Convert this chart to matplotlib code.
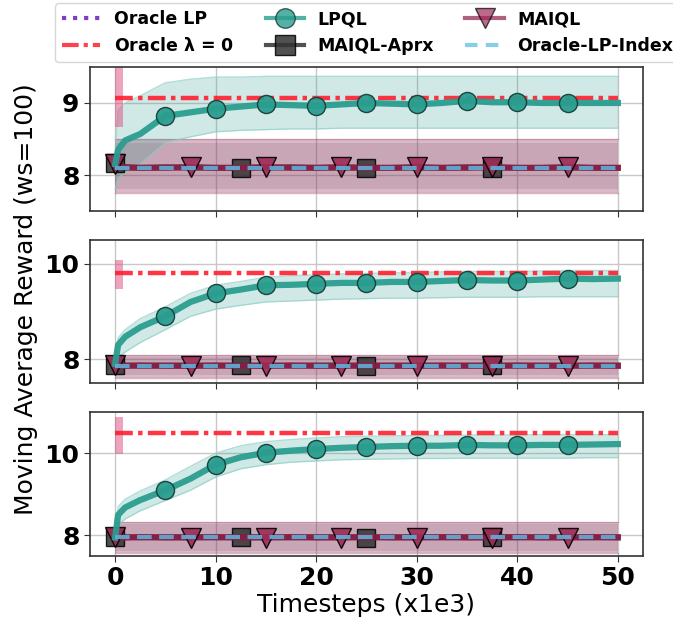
import numpy as np
import matplotlib
matplotlib.use("Agg")
import matplotlib.pyplot as plt
from matplotlib.lines import Line2D

# ---------------- data ----------------
X = [0, 0.3, 1, 2.5, 5, 7.5, 10, 12.5, 15, 17.5, 20, 22.5, 25, 27.5, 30,
     32.5, 35, 37.5, 40, 42.5, 45, 47.5, 50]

# Panel 1
lpql_mean_1 = [8.15, 8.35, 8.48, 8.57, 8.82, 8.87, 8.92, 8.95, 8.98, 8.97, 8.96, 8.98,
               9.00, 8.99, 8.98, 9.00, 9.03, 9.01, 9.01, 9.00, 9.00, 9.00, 9.00]
lpql_hi_1 = [8.30, 8.90, 9.00, 9.10, 9.28, 9.33, 9.36, 9.36, 9.37, 9.37, 9.37, 9.37,
             9.37, 9.37, 9.37, 9.37, 9.37, 9.37, 9.37, 9.37, 9.37, 9.37, 9.37]
lpql_lo_1 = [7.80, 7.95, 8.05, 8.15, 8.45, 8.53, 8.60, 8.62, 8.63, 8.64, 8.64, 8.65,
             8.65, 8.65, 8.65, 8.65, 8.65, 8.65, 8.65, 8.65, 8.65, 8.65, 8.65]
maiql_mean_1 = [8.15, 8.12, 8.11, 8.10, 8.10, 8.11, 8.10, 8.10, 8.11, 8.10, 8.10, 8.11,
                8.10, 8.10, 8.11, 8.10, 8.10, 8.11, 8.10, 8.10, 8.11, 8.10, 8.10]
maiql_hi_1 = [8.50] * 23
maiql_lo_1 = [7.75] * 23
aprx_mean_1 = [8.17, 8.11, 8.10, 8.10, 8.11, 8.10, 8.10, 8.10, 8.10, 8.11, 8.10, 8.10,
               8.10, 8.10, 8.10, 8.10, 8.11, 8.10, 8.10, 8.10, 8.10, 8.10, 8.10]
aprx_hi_1 = [8.45] * 23
aprx_lo_1 = [7.80] * 23
oracle0_1 = 9.07
oracle0_start_1 = (8.67, 9.60)
oracle_lp_1 = 9.07
oracle_idx_1 = 8.10

# Panel 2
lpql_mean_2 = [7.90, 8.30, 8.47, 8.67, 8.90, 9.20, 9.38, 9.46, 9.55, 9.56, 9.58, 9.60,
               9.60, 9.62, 9.62, 9.64, 9.66, 9.65, 9.65, 9.67, 9.69, 9.68, 9.69]
lpql_hi_2 = [8.00, 8.45, 8.62, 8.85, 9.10, 9.38, 9.55, 9.63, 9.72, 9.75, 9.77, 9.79,
             9.80, 9.81, 9.82, 9.83, 9.84, 9.84, 9.84, 9.85, 9.86, 9.86, 9.86]
lpql_lo_2 = [7.70, 8.05, 8.15, 8.35, 8.62, 8.90, 9.05, 9.13, 9.20, 9.22, 9.24, 9.26,
             9.27, 9.28, 9.28, 9.29, 9.30, 9.30, 9.30, 9.31, 9.31, 9.31, 9.31]
maiql_mean_2 = [7.88, 7.86, 7.86, 7.87, 7.86, 7.86, 7.87, 7.86, 7.86, 7.87, 7.86, 7.86,
                7.87, 7.86, 7.86, 7.87, 7.86, 7.86, 7.87, 7.86, 7.86, 7.87, 7.86]
maiql_hi_2 = [8.08] * 23
maiql_lo_2 = [7.60] * 23
aprx_mean_2 = [7.88, 7.87, 7.87, 7.86, 7.87, 7.87, 7.86, 7.87, 7.87, 7.86, 7.87, 7.87,
               7.86, 7.87, 7.87, 7.86, 7.87, 7.87, 7.86, 7.87, 7.87, 7.86, 7.87]
aprx_hi_2 = [8.04] * 23
aprx_lo_2 = [7.66] * 23
oracle0_2 = 9.80
oracle0_start_2 = (9.48, 10.08)
oracle_lp_2 = 9.80
oracle_idx_2 = 7.86

# Panel 3
lpql_mean_3 = [7.95, 8.50, 8.68, 8.86, 9.10, 9.38, 9.72, 9.90, 10.01, 10.06, 10.10, 10.13,
               10.15, 10.17, 10.18, 10.18, 10.20, 10.19, 10.19, 10.20, 10.20, 10.21, 10.22]
lpql_hi_3 = [8.05, 8.70, 8.88, 9.08, 9.35, 9.68, 10.00, 10.18, 10.28, 10.33, 10.37, 10.40,
             10.41, 10.42, 10.43, 10.43, 10.44, 10.44, 10.44, 10.45, 10.45, 10.45, 10.45]
lpql_lo_3 = [7.75, 8.25, 8.40, 8.60, 8.85, 9.10, 9.42, 9.62, 9.72, 9.78, 9.81, 9.84,
             9.85, 9.86, 9.87, 9.87, 9.88, 9.88, 9.88, 9.88, 9.88, 9.89, 9.89]
maiql_mean_3 = [7.97, 7.95, 7.95, 7.96, 7.95, 7.95, 7.96, 7.95, 7.95, 7.96, 7.95, 7.95,
                7.96, 7.95, 7.95, 7.96, 7.95, 7.95, 7.96, 7.95, 7.95, 7.96, 7.95]
maiql_hi_3 = [8.33] * 23
maiql_lo_3 = [7.58] * 23
aprx_mean_3 = [7.97, 7.96, 7.96, 7.95, 7.96, 7.96, 7.95, 7.96, 7.96, 7.95, 7.96, 7.96,
               7.95, 7.96, 7.96, 7.95, 7.96, 7.96, 7.95, 7.96, 7.96, 7.95, 7.96]
aprx_hi_3 = [8.28] * 23
aprx_lo_3 = [7.62] * 23
oracle0_3 = 10.49
oracle0_start_3 = (9.99, 10.87)
oracle_lp_3 = 10.49
oracle_idx_3 = 7.97

start_band_x = [0, 0.8]

ylims = [(7.5, 9.5), (7.5, 10.5), (7.5, 11.0)]
yticks = [[8, 9], [8, 10], [8, 10]]
xticks = [0, 10, 20, 30, 40, 50]

lpql_marks = [5, 10, 15, 20, 25, 30, 35, 40, 45]
maiql_marks = [0, 7.5, 15, 22.5, 30, 37.5, 45]
aprx_marks = [0, 12.5, 25, 37.5]

panels = [
    (lpql_mean_1, lpql_hi_1, lpql_lo_1, maiql_mean_1, maiql_hi_1, maiql_lo_1,
     aprx_mean_1, aprx_hi_1, aprx_lo_1, oracle0_1, oracle0_start_1, oracle_lp_1, oracle_idx_1),
    (lpql_mean_2, lpql_hi_2, lpql_lo_2, maiql_mean_2, maiql_hi_2, maiql_lo_2,
     aprx_mean_2, aprx_hi_2, aprx_lo_2, oracle0_2, oracle0_start_2, oracle_lp_2, oracle_idx_2),
    (lpql_mean_3, lpql_hi_3, lpql_lo_3, maiql_mean_3, maiql_hi_3, maiql_lo_3,
     aprx_mean_3, aprx_hi_3, aprx_lo_3, oracle0_3, oracle0_start_3, oracle_lp_3, oracle_idx_3),
]

# ---------------- style ----------------
TEAL = "#2a9d8f"
MAROON = "#8c1d47"
MAROON_FACE = "#9e2c57"
DARK = "#333333"
RED = "#ff1f2f"
SKY = "#62a8d0"
PURPLE = "#7b3fc4"

fig = plt.figure(figsize=(6.73, 6.23), dpi=100)
positions = [
    [0.1337, 0.6613, 0.8217, 0.2312],
    [0.1337, 0.3852, 0.8217, 0.2296],
    [0.1337, 0.1075, 0.8217, 0.2312],
]

Xa = np.array(X)
def idx(vals):
    return [int(np.argmin(np.abs(Xa - v))) for v in vals]

for i, (pos, data) in enumerate(zip(positions, panels)):
    (lm, lh, ll, mm, mh, ml, am, ah, al, o0, o0s, olp, oidx) = data
    ax = fig.add_axes(pos)
    ax.grid(True, color="#c8c8c8", linewidth=1.0, zorder=0)
    ax.set_axisbelow(True)

    # bands
    ax.fill_between(X, al, ah, color="#555555", alpha=0.15, linewidth=0, zorder=1)
    ax.fill_between(X, ml, mh, color="#8b2252", alpha=0.32, linewidth=0, zorder=1)
    ax.plot(X, mh, color="#b06a86", alpha=0.5, lw=1, zorder=1)
    ax.plot(X, ml, color="#b06a86", alpha=0.5, lw=1, zorder=1)
    ax.fill_between(X, ll, lh, color=TEAL, alpha=0.22, linewidth=0, zorder=2)
    ax.plot(X, lh, color="#8fd0c8", alpha=0.7, lw=1, zorder=2)
    ax.plot(X, ll, color="#8fd0c8", alpha=0.7, lw=1, zorder=2)
    ax.fill_between(start_band_x, [o0s[0]] * 2, [o0s[1]] * 2, color="#dd4d80",
                    alpha=0.5, linewidth=0, zorder=2)

    # lines
    ax.plot(X, am, color=DARK, lw=4, alpha=0.85, marker="s", markersize=13,
            markerfacecolor=DARK, markeredgecolor="black", markeredgewidth=1,
            markevery=idx(aprx_marks), zorder=3)
    ax.plot(X, mm, color=MAROON, lw=4.5, alpha=0.9, marker="v", markersize=14,
            markerfacecolor=MAROON_FACE, markeredgecolor="black", markeredgewidth=1,
            markevery=idx(maiql_marks), zorder=4)
    ax.plot(X, lm, color=TEAL, lw=4.5, alpha=0.95, marker="o", markersize=13,
            markerfacecolor=TEAL, markeredgecolor="#173d38", markeredgewidth=1,
            markevery=idx(lpql_marks), zorder=5)
    ax.plot([X[0], X[-1]], [o0, o0], color=RED, lw=3.2, alpha=0.9,
            linestyle=(0, (4, 1.2, 1, 1.2)), zorder=4)
    ax.plot([X[0], X[-1]], [oidx, oidx], color=SKY, lw=3, alpha=0.95,
            linestyle=(0, (3.5, 1.8)), zorder=6)

    ax.set_xlim(-2.5, 52.5)
    ax.set_ylim(*ylims[i])
    ax.set_yticks(yticks[i])
    ax.set_xticks(xticks)
    for s in ax.spines.values():
        s.set_color("#333333")
        s.set_linewidth(1.2)
    ax.tick_params(axis="both", labelsize=18, length=4, color="#333333")
    for t in ax.get_yticklabels():
        t.set_fontweight("bold")
    if i < 2:
        ax.set_xticklabels([])
    else:
        for t in ax.get_xticklabels():
            t.set_fontweight("bold")
        ax.set_xlabel("Timesteps (x1e3)", fontsize=18, labelpad=2)

fig.text(0.038, 0.52, "Moving Average Reward (ws=100)", rotation=90,
         fontsize=18, ha="center", va="center")

handles = [
    Line2D([], [], color=PURPLE, lw=3, linestyle=":"),
    Line2D([], [], color=RED, lw=3, alpha=0.85, linestyle=(0, (4, 1.2, 1, 1.2))),
    Line2D([], [], color=TEAL, lw=3, alpha=0.8, marker="o", markersize=14,
           markerfacecolor=TEAL, markeredgecolor="#173d38"),
    Line2D([], [], color=DARK, lw=3, alpha=0.85, marker="s", markersize=14,
           markerfacecolor=DARK, markeredgecolor="black"),
    Line2D([], [], color=MAROON, lw=3, alpha=0.7, marker="v", markersize=14,
           markerfacecolor=MAROON_FACE, markeredgecolor="black"),
    Line2D([], [], color="#87ceeb", lw=3, linestyle=(0, (3, 2))),
]
labels = ["Oracle LP", "Oracle $\\mathbf{\\lambda}$ = 0", "LPQL", "MAIQL-Aprx",
          "MAIQL", "Oracle-LP-Index"]
leg = fig.legend(handles, labels, loc="upper left", bbox_to_anchor=(0.077, 1.0),
                 ncol=3, prop={"weight": "bold", "size": 12.5}, handlelength=2.2,
                 columnspacing=1.8, frameon=True, fancybox=True, borderaxespad=0.2)
leg.get_frame().set_edgecolor("#cccccc")

fig.savefig("out.png", dpi=100)
